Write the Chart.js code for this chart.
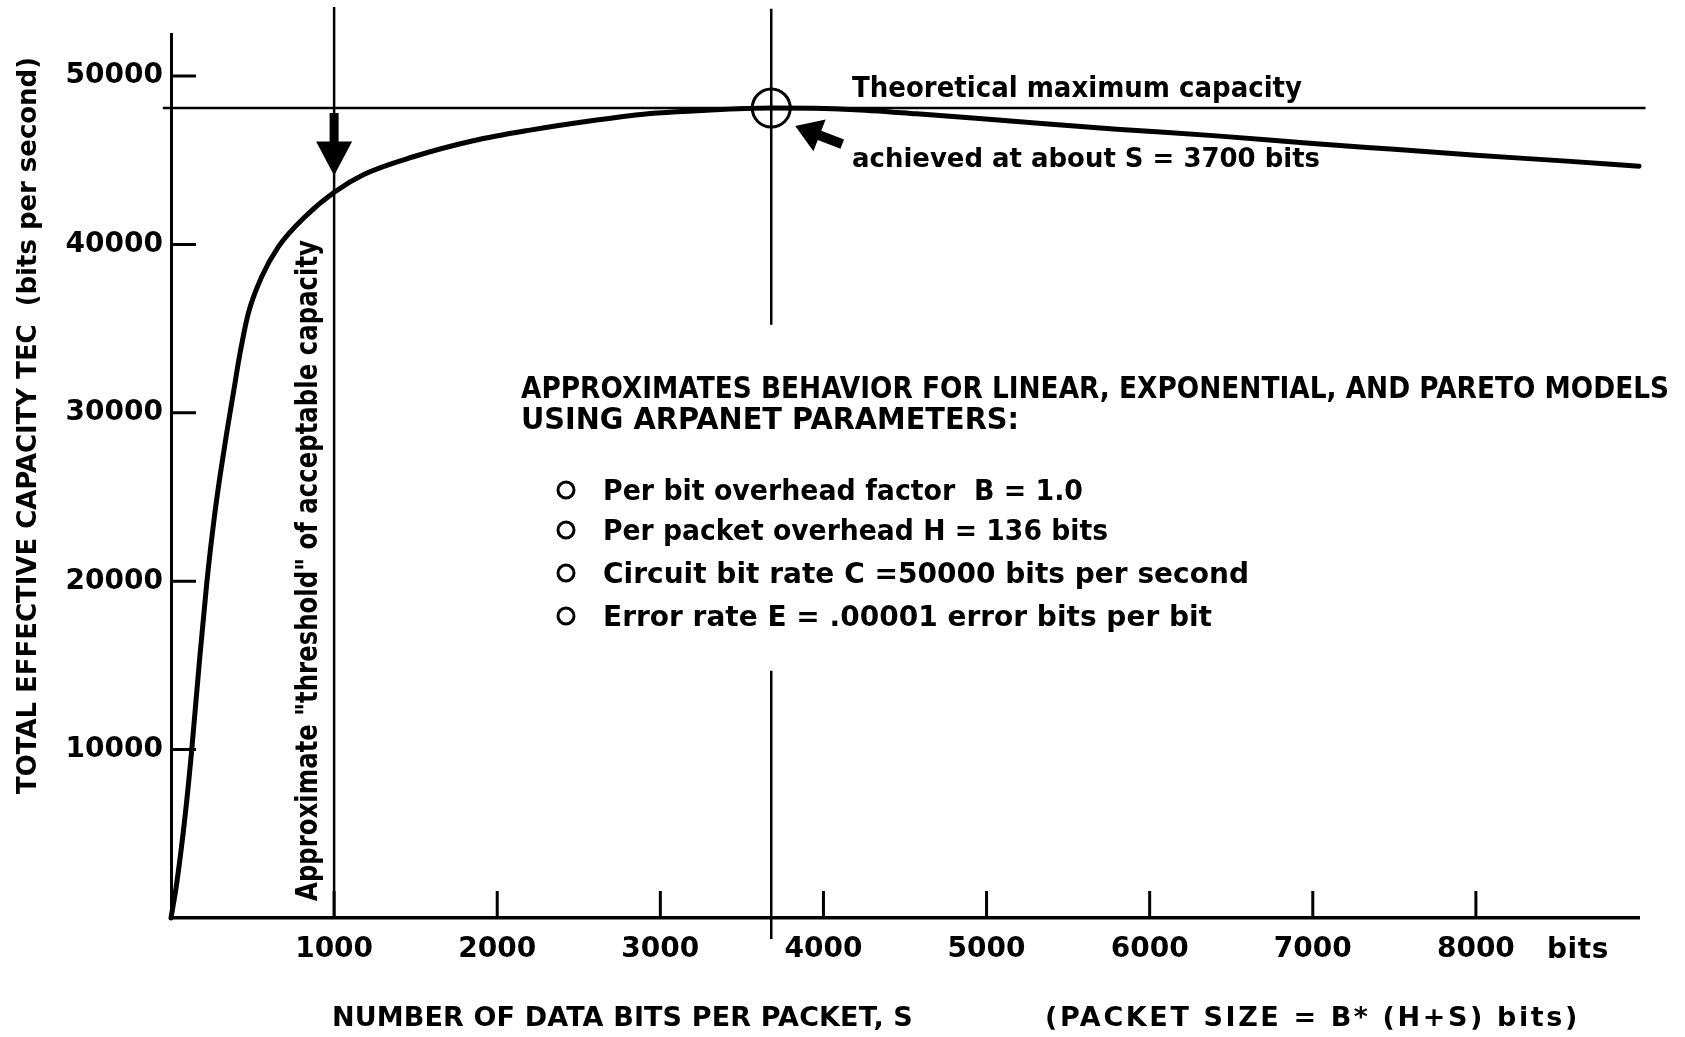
<!DOCTYPE html>
<html>
<head>
<meta charset="utf-8">
<title>Total effective capacity vs data bits per packet</title>
<script src="https://cdn.jsdelivr.net/npm/chart.js@4.4.1/dist/chart.umd.min.js"></script>
<style>
  html, body { margin: 0; padding: 0; background: #fff; }
  canvas { display: block; }
</style>
</head>
<body>
<canvas id="tec-chart" width="1685" height="1037"></canvas>
<script>
// curve: data bits per packet S -> TEC (bits per second)
const dataBits = [0, 35, 86, 127, 172, 219, 266, 300, 341, 382, 423, 474, 556, 658, 822, 1005, 1185, 1486, 1853, 2201, 2610, 2937, 3223, 3680, 4163, 4572, 5185, 5798, 6411, 7000, 7500, 8000, 8557, 9000];
const capacity = [0, 2060, 6020, 9980, 15000, 19870, 23830, 26210, 28780, 31160, 33530, 35910, 38080, 39860, 41650, 43130, 44170, 45210, 46160, 46790, 47390, 47780, 47940, 48100, 48020, 47760, 47300, 46850, 46450, 46000, 45650, 45300, 44950, 44650];

const xTickValues = [1000, 2000, 3000, 4000, 5000, 6000, 7000, 8000];
const xTickLabels = ['1000', '2000', '3000', '4000', '5000', '6000', '7000', '8000'];
const yTickValues = [10000, 20000, 30000, 40000, 50000];
const yTickLabels = ['10000', '20000', '30000', '40000', '50000'];

const maxCapacity = 48100;   // theoretical maximum line
const optimumBits = 3680;    // "about S = 3700"
const thresholdBits = 1000;  // threshold of acceptable capacity
const arrowTipTEC = 44100;

const paramLines = [
  'Per bit overhead factor  B = 1.0',
  'Per packet overhead H = 136 bits',
  'Circuit bit rate C =50000 bits per second',
  'Error rate E = .00001 error bits per bit'
];

const ink = '#000';
const face = '"DejaVu Sans", "Liberation Sans", sans-serif';

// draws text squeezed or spread to a given width
function fitText(ctx, str, x, y, w, font) {
  ctx.font = font;
  ctx.letterSpacing = '0px';
  const nat = ctx.measureText(str).width;
  if (nat < w) ctx.letterSpacing = ((w - nat) / str.length).toFixed(2) + 'px';
  ctx.fillText(str, x, y, w);
  ctx.letterSpacing = '0px';
}

function arrow(ctx, x0, y0, x1, y1, shaftW, headLen, headHalf) {
  const a = Math.atan2(y1 - y0, x1 - x0);
  const len = Math.hypot(x1 - x0, y1 - y0);
  ctx.save();
  ctx.translate(x0, y0);
  ctx.rotate(a);
  ctx.beginPath();
  ctx.moveTo(0, -shaftW / 2);
  ctx.lineTo(len - headLen, -shaftW / 2);
  ctx.lineTo(len - headLen, -headHalf);
  ctx.lineTo(len, 0);
  ctx.lineTo(len - headLen, headHalf);
  ctx.lineTo(len - headLen, shaftW / 2);
  ctx.lineTo(0, shaftW / 2);
  ctx.closePath();
  ctx.fill();
  ctx.restore();
}

const decorations = {
  id: 'decorations',
  afterDatasetsDraw(chart) {
    const { ctx, scales: { x, y } } = chart;
    ctx.save();
    ctx.strokeStyle = ink;
    ctx.fillStyle = ink;
    ctx.lineWidth = 3;

    // tick marks point into the plot
    ctx.beginPath();
    xTickValues.forEach(v => {
      const px = x.getPixelForValue(v);
      ctx.moveTo(px, y.bottom);
      ctx.lineTo(px, y.bottom - 27);
    });
    yTickValues.forEach(v => {
      const py = y.getPixelForValue(v);
      ctx.moveTo(x.left, py);
      ctx.lineTo(x.left + 25, py);
    });
    ctx.stroke();

    // arrow down onto the threshold crossing
    const tx = x.getPixelForValue(thresholdBits);
    arrow(ctx, tx, y.getPixelForValue(maxCapacity) + 5, tx, y.getPixelForValue(arrowTipTEC), 9, 34, 18);

    // arrow pointing at the maximum
    const cx = x.getPixelForValue(optimumBits);
    const cy = y.getPixelForValue(maxCapacity);
    arrow(ctx, cx + 71, cy + 36, cx + 24, cy + 18, 10, 26, 17);

    // annotations
    ctx.textAlign = 'left';
    ctx.textBaseline = 'alphabetic';
    fitText(ctx, 'Theoretical maximum capacity', 852, 97, 450, 'bold 28px ' + face);
    fitText(ctx, 'achieved at about S = 3700 bits', 852, 167, 468, 'bold 27px ' + face);

    fitText(ctx, 'APPROXIMATES BEHAVIOR FOR LINEAR, EXPONENTIAL, AND PARETO MODELS', 521, 398, 1148, 'bold 31px ' + face);
    fitText(ctx, 'USING ARPANET PARAMETERS:', 521, 429, 498, 'bold 31px ' + face);

    const bulletY = [490, 530, 573, 616];
    const bulletW = [480, 505, 646, 609];
    paramLines.forEach((t, i) => {
      ctx.beginPath();
      ctx.lineWidth = 3;
      ctx.arc(566, bulletY[i], 8, 0, Math.PI * 2);
      ctx.stroke();
      fitText(ctx, t, 603, bulletY[i] + 10, bulletW[i], 'bold 28px ' + face);
    });

    fitText(ctx, 'bits', 1547, 958, 62, 'bold 28px ' + face);
    fitText(ctx, 'NUMBER OF DATA BITS PER PACKET, S', 332, 1026, 581, 'bold 27px ' + face);
    fitText(ctx, '(PACKET SIZE = B* (H+S) bits)', 1045, 1026, 535, 'bold 27px ' + face);

    // rotated texts
    ctx.save();
    ctx.translate(36, 794);
    ctx.rotate(-Math.PI / 2);
    fitText(ctx, 'TOTAL EFFECTIVE CAPACITY TEC  (bits per second)', 0, 0, 737, 'bold 27px ' + face);
    ctx.restore();

    ctx.save();
    ctx.translate(317, 901);
    ctx.rotate(-Math.PI / 2);
    fitText(ctx, 'Approximate "threshold" of acceptable capacity', 0, 0, 661, 'bold 30px ' + face);
    ctx.restore();

    ctx.restore();
  }
};

const curve = dataBits.map((s, i) => ({ x: s, y: capacity[i] }));

new Chart(document.getElementById('tec-chart'), {
  type: 'line',
  data: {
    datasets: [
      {
        label: 'TEC',
        data: curve,
        borderColor: ink,
        borderWidth: 5,
        pointRadius: 0,
        cubicInterpolationMode: 'monotone',
        borderCapStyle: 'round',
        clip: false
      },
      {
        label: 'Theoretical maximum capacity',
        data: [{ x: -50, y: maxCapacity }, { x: 9040, y: maxCapacity }],
        borderColor: ink,
        borderWidth: 2.5,
        pointRadius: 0,
        clip: false
      },
      {
        label: 'Threshold',
        data: [{ x: thresholdBits, y: 0 }, { x: thresholdBits, y: 54100 }],
        borderColor: ink,
        borderWidth: 2.5,
        pointRadius: 0,
        clip: false
      },
      {
        label: 'Optimum',
        data: [
          { x: optimumBits, y: 54000 }, { x: optimumBits, y: 35240 },
          { x: optimumBits, y: null },
          { x: optimumBits, y: 14690 }, { x: optimumBits, y: -1250 }
        ],
        borderColor: ink,
        borderWidth: 2.5,
        pointRadius: 0,
        spanGaps: false,
        clip: false
      },
      {
        label: 'Maximum point',
        data: [{ x: optimumBits, y: maxCapacity }],
        showLine: false,
        pointRadius: 19,
        pointBorderWidth: 3,
        pointBorderColor: ink,
        pointBackgroundColor: 'rgba(0,0,0,0)',
        clip: false
      }
    ]
  },
  options: {
    responsive: false,
    devicePixelRatio: 1,
    animation: false,
    events: [],
    layout: { padding: { top: 34, right: 46, bottom: 0, left: 0 } },
    plugins: {
      legend: { display: false },
      tooltip: { enabled: false }
    },
    scales: {
      x: {
        type: 'linear',
        min: 0,
        max: 9000,
        grid: { display: true, drawOnChartArea: false, drawTicks: false },
        border: { display: true, color: ink, width: 3.5 },
        afterBuildTicks: s => { s.ticks = xTickValues.map(v => ({ value: v })); },
        afterFit: s => { s.height = 119; },
        ticks: {
          color: ink,
          padding: 15,
          autoSkip: false,
          maxRotation: 0,
          font: { family: face, size: 28, weight: 'bold' },
          callback: v => xTickLabels[xTickValues.indexOf(v)]
        }
      },
      y: {
        type: 'linear',
        min: 0,
        max: 52500,
        grid: { display: true, drawOnChartArea: false, drawTicks: false },
        border: { display: true, color: ink, width: 3 },
        afterBuildTicks: s => { s.ticks = yTickValues.map(v => ({ value: v })); },
        afterFit: s => { s.width = 171; },
        ticks: {
          color: ink,
          padding: 8,
          font: { family: face, size: 28, weight: 'bold' },
          callback: v => yTickLabels[yTickValues.indexOf(v)]
        }
      }
    }
  },
  plugins: [decorations]
});
</script>
</body>
</html>
